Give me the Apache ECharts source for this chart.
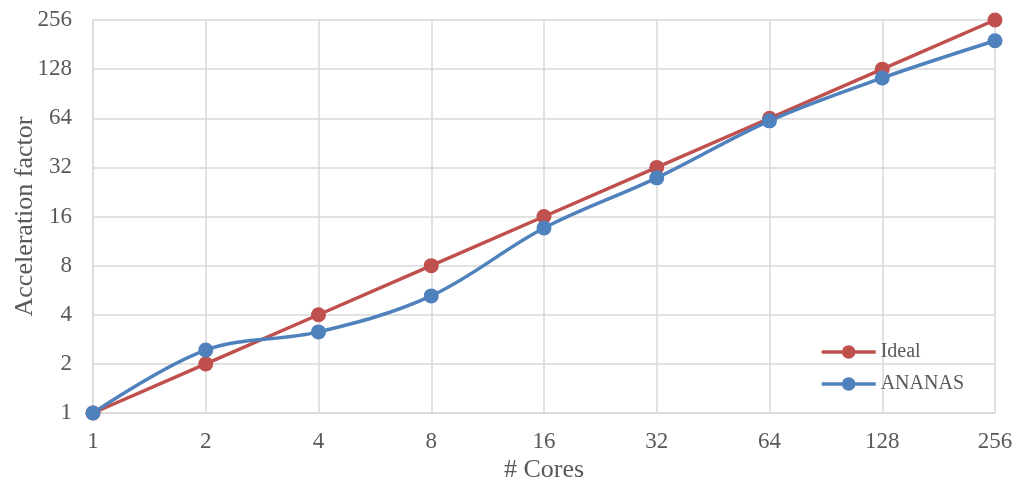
<!DOCTYPE html>
<html><head><meta charset="utf-8">
<script src="https://cdn.jsdelivr.net/npm/echarts@6/dist/echarts.min.js"></script>
<style>html,body{margin:0;padding:0;background:#fff}#c{width:1016px;height:484px}</style>
</head><body><div id="c"></div>
<script>
const cores = [1, 2, 4, 8, 16, 32, 64, 128, 256];
const ideal = [1, 2, 4, 8, 16, 32, 64, 128, 256];
const ananas = [1, 2.43, 3.14, 5.22, 13.6, 27.6, 61.7, 113, 191];
const seriesNames = ['Ideal', 'ANANAS'];

const chart = echarts.init(document.getElementById('c'));
const font = '"Liberation Serif", "Times New Roman", serif';
const gridLine = {show: true, lineStyle: {color: '#d9d9d9', width: 1.5}};
chart.setOption({
  animation: false,
  textStyle: {fontFamily: font},
  grid: {left: 93, right: 21, top: 20, bottom: 71, containLabel: false, outerBoundsMode: 'none'},
  legend: {
    orient: 'vertical', right: 47, top: 337, itemGap: 12,
    itemWidth: 54, itemHeight: 17,
    lineStyle: {width: 3.5},
    textStyle: {fontFamily: font, fontSize: 20, color: '#595959'},
    data: seriesNames
  },
  xAxis: {
    type: 'log', logBase: 2, min: 1, max: 256, interval: 1,
    name: '# Cores', nameLocation: 'middle', nameGap: 44, nameMoveOverlap: false,
    nameTextStyle: {fontFamily: font, fontSize: 26, color: '#595959'},
    axisLine: {show: true, lineStyle: {color: '#d9d9d9', width: 1.5}},
    axisTick: {show: false},
    axisLabel: {fontFamily: font, fontSize: 23, color: '#595959', margin: 17},
    splitLine: gridLine
  },
  yAxis: {
    type: 'log', logBase: 2, min: 1, max: 256, interval: 1,
    name: 'Acceleration factor', nameLocation: 'middle', nameGap: 55, nameRotate: 90, nameMoveOverlap: false,
    nameTextStyle: {fontFamily: font, fontSize: 26, color: '#595959'},
    axisLine: {show: true, lineStyle: {color: '#d9d9d9', width: 1.5}},
    axisTick: {show: false},
    axisLabel: {fontFamily: font, fontSize: 23, color: '#595959', margin: 21},
    splitLine: gridLine
  },
  series: [
    {
      name: seriesNames[0], type: 'line',
      data: cores.map((c, i) => [c, ideal[i]]),
      symbol: 'circle', symbolSize: 15,
      lineStyle: {color: '#C0504D', width: 3.5},
      itemStyle: {color: '#C0504D'}
    },
    {
      name: seriesNames[1], type: 'line', smooth: 0.35,
      data: cores.map((c, i) => [c, ananas[i]]),
      symbol: 'circle', symbolSize: 15,
      lineStyle: {color: '#4F81BD', width: 3.5},
      itemStyle: {color: '#4F81BD'}
    }
  ]
});
</script></body></html>
